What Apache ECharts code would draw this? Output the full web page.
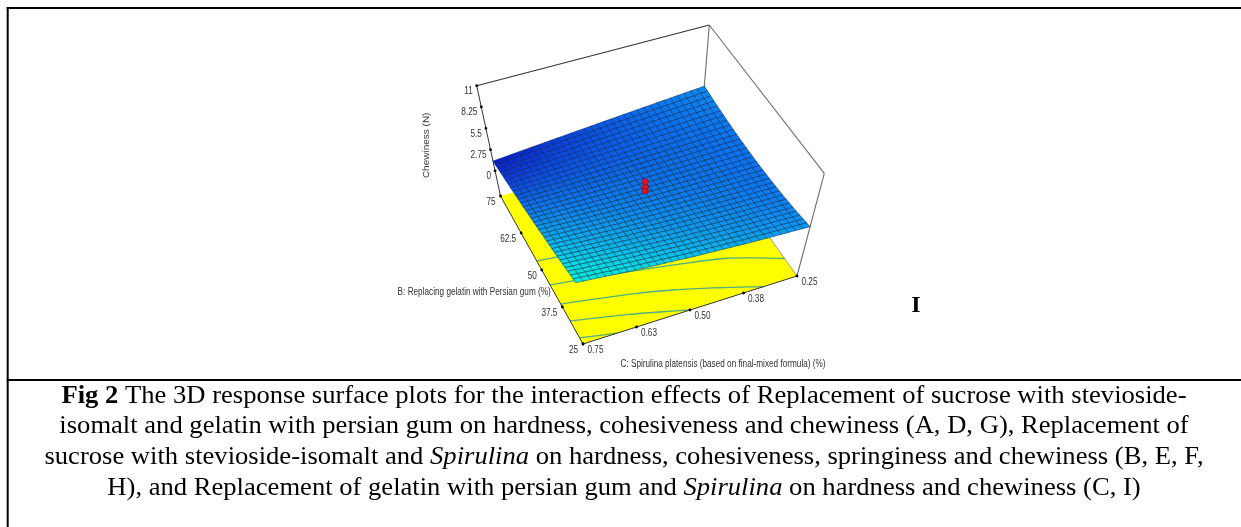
<!DOCTYPE html>
<html><head><meta charset="utf-8">
<style>html,body{margin:0;padding:0;background:#fff}#c{width:1241px;height:527px}</style>
<script src="https://cdn.jsdelivr.net/npm/echarts@6/dist/echarts.min.js"></script>
</head><body><div id="c"></div>
<script>
const zTickValues=[0,2.75,5.5,8.25,11];
const zTickLabels=['0','2.75','5.5','8.25','11'];
const bTickValues=[75,62.5,50,37.5,25];
const bTickLabels=['75','62.5','50','37.5','25'];
const cTickValues=[0.75,0.625,0.5,0.375,0.25];
const cTickLabels=['0.75','0.63','0.50','0.38','0.25'];
const zTitle='Chewiness (N)';
const bTitle='B: Replacing gelatin with Persian gum (%)';
const cTitle='C: Spirulina platensis (based on final-mixed formula) (%)';
const designPoints=[[0.5,50,4.45],[0.5,50,3.7],[0.5,50,3.2]];
const contourA=[[0.75,53],[0.71,52.5],[0.65,51.5],[0.6,50.5]];
const contourB=[[0.75,45],[0.692,44],[0.569,41.7],[0.46,39.4],[0.363,36.9],[0.303,34.2],[0.25,31.4]];
const contourC=[[0.75,38.5],[0.594,35],[0.51,32.5],[0.429,29.4],[0.375,27.1],[0.329,25]];
const contourD=[[0.75,32.8],[0.624,29.3],[0.555,27],[0.5,25]];
const contourE=[[0.75,27.1],[0.714,26.1],[0.67,25]];
// Chewiness: rows run C 0.75 to 0.25, columns run B 75 to 25.
const surfaceRows=[
[1.28,1.40,1.52,1.65,1.77,1.90,2.02,2.15,2.29,2.42,2.55,2.69,2.83,2.96,3.10,3.25,3.39,3.54,3.68,3.83,3.98,4.13,4.28,4.44,4.60,4.75,4.91,5.07,5.24,5.40,5.56,5.73,5.90],
[1.35,1.46,1.57,1.69,1.81,1.93,2.05,2.17,2.30,2.43,2.55,2.69,2.82,2.95,3.08,3.22,3.36,3.50,3.64,3.78,3.93,4.08,4.22,4.38,4.53,4.68,4.83,4.99,5.15,5.31,5.47,5.63,5.80],
[1.41,1.52,1.63,1.74,1.85,1.97,2.08,2.19,2.32,2.44,2.56,2.68,2.81,2.93,3.06,3.20,3.33,3.47,3.60,3.74,3.88,4.02,4.16,4.31,4.46,4.61,4.76,4.91,5.07,5.22,5.38,5.54,5.70],
[1.48,1.58,1.68,1.79,1.89,2.00,2.10,2.21,2.33,2.44,2.56,2.68,2.80,2.92,3.04,3.17,3.30,3.43,3.56,3.69,3.83,3.97,4.10,4.25,4.39,4.53,4.68,4.83,4.98,5.13,5.28,5.44,5.60],
[1.55,1.64,1.73,1.83,1.93,2.03,2.13,2.24,2.35,2.45,2.56,2.68,2.79,2.91,3.02,3.15,3.27,3.40,3.52,3.65,3.78,3.91,4.04,4.18,4.32,4.46,4.60,4.75,4.90,5.05,5.19,5.35,5.50],
[1.61,1.70,1.78,1.88,1.97,2.06,2.16,2.26,2.36,2.46,2.56,2.67,2.78,2.89,3.00,3.12,3.24,3.36,3.48,3.60,3.73,3.86,3.98,4.12,4.25,4.39,4.52,4.67,4.81,4.96,5.10,5.25,5.40],
[1.68,1.76,1.84,1.92,2.01,2.10,2.19,2.28,2.37,2.47,2.56,2.67,2.77,2.88,2.98,3.09,3.20,3.32,3.43,3.55,3.67,3.80,3.92,4.05,4.18,4.31,4.44,4.58,4.72,4.87,5.01,5.15,5.30],
[1.74,1.82,1.89,1.97,2.05,2.13,2.21,2.30,2.39,2.47,2.57,2.66,2.76,2.86,2.96,3.07,3.17,3.29,3.39,3.51,3.62,3.75,3.86,3.99,4.11,4.24,4.37,4.50,4.64,4.78,4.91,5.06,5.20],
[1.81,1.88,1.94,2.01,2.09,2.16,2.24,2.32,2.40,2.48,2.57,2.66,2.75,2.85,2.94,3.04,3.14,3.25,3.35,3.46,3.57,3.69,3.80,3.92,4.04,4.17,4.29,4.42,4.55,4.69,4.82,4.96,5.10],
[1.88,1.94,1.99,2.06,2.13,2.20,2.27,2.34,2.42,2.49,2.58,2.66,2.75,2.84,2.93,3.02,3.12,3.22,3.32,3.43,3.53,3.65,3.75,3.87,3.99,4.11,4.23,4.35,4.48,4.62,4.75,4.88,5.02],
[1.94,2.00,2.05,2.11,2.17,2.23,2.30,2.37,2.44,2.51,2.59,2.66,2.75,2.84,2.92,3.01,3.10,3.20,3.29,3.39,3.49,3.60,3.70,3.82,3.93,4.05,4.17,4.29,4.41,4.55,4.67,4.80,4.94],
[2.01,2.06,2.10,2.15,2.21,2.27,2.33,2.39,2.46,2.52,2.59,2.67,2.74,2.83,2.90,2.99,3.08,3.17,3.26,3.36,3.45,3.56,3.66,3.77,3.88,3.99,4.10,4.22,4.34,4.47,4.60,4.72,4.86],
[2.08,2.12,2.16,2.20,2.26,2.31,2.36,2.42,2.48,2.54,2.60,2.67,2.74,2.82,2.89,2.98,3.06,3.15,3.23,3.32,3.42,3.52,3.61,3.72,3.82,3.94,4.04,4.16,4.28,4.40,4.52,4.65,4.78],
[2.14,2.17,2.21,2.25,2.30,2.34,2.39,2.44,2.50,2.55,2.61,2.67,2.74,2.81,2.88,2.96,3.04,3.12,3.20,3.29,3.38,3.47,3.56,3.66,3.77,3.88,3.98,4.09,4.21,4.33,4.45,4.57,4.70],
[2.21,2.23,2.26,2.30,2.34,2.38,2.42,2.47,2.52,2.56,2.62,2.67,2.74,2.81,2.87,2.94,3.02,3.10,3.17,3.25,3.34,3.43,3.51,3.61,3.71,3.82,3.92,4.03,4.14,4.26,4.37,4.49,4.62],
[2.27,2.29,2.32,2.34,2.38,2.41,2.45,2.49,2.53,2.58,2.62,2.68,2.73,2.80,2.85,2.93,2.99,3.07,3.14,3.21,3.30,3.38,3.47,3.56,3.66,3.76,3.85,3.96,4.07,4.18,4.30,4.41,4.53],
[2.34,2.35,2.37,2.39,2.42,2.45,2.48,2.51,2.55,2.59,2.63,2.68,2.73,2.79,2.84,2.91,2.97,3.04,3.11,3.18,3.26,3.34,3.42,3.51,3.60,3.70,3.79,3.89,4.00,4.11,4.22,4.33,4.45],
[2.41,2.41,2.43,2.44,2.46,2.49,2.51,2.54,2.57,2.61,2.65,2.69,2.74,2.79,2.84,2.90,2.96,3.02,3.09,3.16,3.23,3.31,3.39,3.47,3.56,3.66,3.74,3.84,3.95,4.06,4.16,4.27,4.39],
[2.47,2.47,2.48,2.49,2.51,2.53,2.55,2.57,2.60,2.63,2.66,2.70,2.74,2.79,2.83,2.89,2.94,3.01,3.07,3.13,3.21,3.28,3.35,3.44,3.52,3.61,3.70,3.79,3.90,4.00,4.10,4.21,4.33],
[2.54,2.53,2.54,2.54,2.55,2.57,2.58,2.60,2.62,2.65,2.68,2.71,2.75,2.79,2.83,2.88,2.93,2.99,3.05,3.11,3.18,3.25,3.32,3.40,3.48,3.57,3.65,3.74,3.84,3.95,4.05,4.15,4.26],
[2.61,2.60,2.59,2.59,2.60,2.61,2.62,2.63,2.65,2.67,2.69,2.72,2.75,2.79,2.83,2.87,2.92,2.98,3.03,3.09,3.15,3.22,3.29,3.36,3.44,3.53,3.61,3.70,3.79,3.89,3.99,4.09,4.20],
[2.67,2.66,2.65,2.64,2.64,2.65,2.65,2.66,2.67,2.69,2.71,2.73,2.76,2.79,2.82,2.86,2.91,2.96,3.01,3.06,3.12,3.19,3.25,3.32,3.40,3.48,3.56,3.64,3.74,3.84,3.93,4.03,4.14],
[2.74,2.72,2.70,2.69,2.68,2.68,2.68,2.68,2.69,2.70,2.72,2.74,2.76,2.79,2.82,2.86,2.90,2.94,2.99,3.04,3.10,3.16,3.22,3.29,3.36,3.44,3.51,3.60,3.69,3.78,3.88,3.97,4.08],
[2.80,2.78,2.76,2.74,2.73,2.72,2.72,2.71,2.72,2.72,2.74,2.75,2.77,2.79,2.81,2.85,2.88,2.92,2.97,3.01,3.07,3.13,3.18,3.25,3.32,3.39,3.47,3.55,3.63,3.73,3.82,3.91,4.01],
[2.87,2.84,2.81,2.79,2.77,2.76,2.75,2.74,2.74,2.74,2.75,2.76,2.77,2.79,2.81,2.84,2.87,2.91,2.95,2.99,3.04,3.10,3.15,3.21,3.28,3.35,3.42,3.50,3.58,3.67,3.76,3.85,3.95],
[2.94,2.90,2.87,2.84,2.82,2.80,2.79,2.77,2.77,2.76,2.77,2.78,2.78,2.80,2.81,2.84,2.87,2.90,2.94,2.98,3.03,3.08,3.13,3.19,3.25,3.32,3.39,3.47,3.54,3.63,3.72,3.81,3.91],
[3.00,2.96,2.92,2.89,2.86,2.84,2.82,2.81,2.80,2.79,2.79,2.79,2.80,2.81,2.82,2.84,2.87,2.90,2.93,2.97,3.01,3.06,3.11,3.16,3.23,3.29,3.36,3.43,3.51,3.59,3.68,3.77,3.86],
[3.07,3.02,2.98,2.94,2.91,2.88,2.86,2.84,2.82,2.81,2.81,2.81,2.81,2.81,2.83,2.84,2.86,2.89,2.92,2.95,3.00,3.04,3.09,3.14,3.20,3.26,3.33,3.40,3.47,3.55,3.64,3.73,3.82],
[3.13,3.08,3.03,2.99,2.95,2.92,2.89,2.87,2.85,2.83,2.82,2.82,2.82,2.82,2.83,2.84,2.86,2.88,2.91,2.94,2.98,3.02,3.06,3.11,3.17,3.23,3.29,3.36,3.43,3.51,3.60,3.68,3.77],
[3.20,3.14,3.09,3.04,3.00,2.96,2.93,2.90,2.88,2.86,2.84,2.83,2.83,2.83,2.83,2.84,2.86,2.88,2.90,2.93,2.97,3.00,3.04,3.09,3.14,3.20,3.26,3.33,3.40,3.47,3.56,3.64,3.73],
[3.27,3.20,3.14,3.09,3.05,3.00,2.97,2.94,2.91,2.88,2.86,2.85,2.84,2.84,2.84,2.85,2.86,2.87,2.89,2.92,2.95,2.98,3.02,3.07,3.11,3.17,3.23,3.30,3.36,3.44,3.52,3.60,3.69],
[3.33,3.27,3.20,3.15,3.09,3.04,3.00,2.97,2.93,2.91,2.88,2.86,2.86,2.84,2.84,2.85,2.85,2.86,2.88,2.90,2.94,2.97,3.00,3.04,3.09,3.14,3.20,3.26,3.33,3.40,3.48,3.56,3.64],
[3.40,3.33,3.26,3.20,3.14,3.09,3.04,3.00,2.96,2.93,2.90,2.88,2.87,2.85,2.85,2.85,2.85,2.86,2.87,2.89,2.92,2.95,2.98,3.02,3.06,3.11,3.17,3.23,3.29,3.36,3.44,3.52,3.60]
];
const captionLines=[
'{b|Fig 2} The 3D response surface plots for the interaction effects of Replacement of sucrose with stevioside-',
'isomalt and gelatin with persian gum on hardness, cohesiveness and chewiness (A, D, G), Replacement of',
'sucrose with stevioside-isomalt and {i|Spirulina} on hardness, cohesiveness, springiness and chewiness (B, E, F,',
'H), and Replacement of gelatin with persian gum and {i|Spirulina} on hardness and chewiness (C, I)'];
const panelLetter='I';

/* scene: where the corners of the plot cube land in the page */
const view={
  floor:{A:[500.5,196],D:[583,344],E:[797,276],F:[700,139.4]},
  top:{A:[476.7,85.7],D:[571.6,248.5],E:[824.3,173.3],F:[709.3,25]},
  zFloor:-3.23, zTop:11
};
function bil(q,s,t){
  const f=k=>(1-s)*(1-t)*q.D[k]+s*(1-t)*q.E[k]+(1-s)*t*q.A[k]+s*t*q.F[k];
  return [f(0),f(1)];
}
function project(c,b,z){
  const s=(0.75-c)/0.5,t=(b-25)/50,w=(z-view.zFloor)/(view.zTop-view.zFloor);
  const p=bil(view.floor,s,t),q=bil(view.top,s,t);
  return [p[0]+(q[0]-p[0])*w,p[1]+(q[1]-p[1])*w];
}
const nC=surfaceRows.length,nB=surfaceRows[0].length;
const meshC=i=>0.75-0.5*i/(nC-1), meshB=j=>75-50*j/(nB-1);
const surfaceCells=[];
for(let i=0;i<nC-1;i++)for(let j=0;j<nB-1;j++){
  const m=(surfaceRows[i][j]+surfaceRows[i+1][j]+surfaceRows[i+1][j+1]+surfaceRows[i][j+1])/4;
  surfaceCells.push([i,j,m]);
}
const zF=view.zFloor,zT=view.zTop;
const boxEdges=[
 [.75,75,zT,.25,75,zT,'#333',1.1],[.25,75,zT,.25,25,zT,'#6e6e6e',1.1],
 [.75,75,zF,.75,75,zT,'#333',1],[.25,75,zF,.25,75,zT,'#6e6e6e',1.1],[.25,25,zF,.25,25,zT,'#6e6e6e',1.1],
 [.25,25,zF,.25,75,zF,'#777',.7],[.75,75,zF,.75,25,zF,'#333',1],[.75,25,zF,.25,25,zF,'#333',1]];
const dot=(api,p,r,fill,stroke)=>{const c=api.coord(p);return {type:'circle',shape:{cx:c[0],cy:c[1],r:r},style:{fill:fill,stroke:stroke||null,lineWidth:.6}};};
const FONT='"Liberation Sans",Arial,sans-serif';
const lab=(api,p,text,dx,dy,align)=>{const c=api.coord(p);return {type:'text',x:c[0]+dx,y:c[1]+dy,scaleX:.82,style:{text:text,fill:'#333',font:'10px '+FONT,align:align,verticalAlign:'middle'}};};
const base={type:'custom',coordinateSystem:'cartesian2d',silent:true,animation:false,clip:false};
const contours=[contourA,contourB,contourC,contourD,contourE];
const titles=[zTitle,bTitle,cTitle];
const serif='"Liberation Serif",serif';
const option={
 animation:false,
 grid:{left:0,right:0,top:0,bottom:0},
 xAxis:{type:'value',min:0,max:1241,show:false},
 yAxis:{type:'value',min:0,max:527,inverse:true,show:false},
 visualMap:{show:false,type:'continuous',seriesIndex:3,dimension:2,min:1.28,max:5.9,
   inRange:{color:['#0818c6','#0a44dc','#0a72ee','#0a96f0','#05bcee','#00dde6','#00f0dc']}},
 graphic:[
  {type:'line',shape:{x1:6.7,y1:8,x2:1241,y2:8},style:{stroke:'#000',lineWidth:2}},
  {type:'line',shape:{x1:7.7,y1:7,x2:7.7,y2:527},style:{stroke:'#000',lineWidth:2}},
  {type:'line',shape:{x1:6.7,y1:380,x2:1241,y2:380},style:{stroke:'#000',lineWidth:2}},
  {type:'text',x:916,y:306,style:{text:panelLetter,fill:'#000',font:'bold 24px '+serif,align:'center',verticalAlign:'middle'}}
 ].concat(captionLines.map((t,k)=>({type:'text',x:624,y:396+k*30.7,scaleX:1.043,style:{text:t,fill:'#000',font:'25.5px '+serif,align:'center',verticalAlign:'middle',
    rich:{b:{font:'bold 25.5px '+serif,fill:'#000'},i:{font:'italic 25.5px '+serif,fill:'#000'}}}}))),
 series:[
  Object.assign({},base,{name:'floor',data:[[0.5,50]],renderItem:(p,api)=>({type:'polygon',
     shape:{points:[[.75,75],[.75,25],[.25,25],[.25,75]].map(q=>api.coord(project(q[0],q[1],zF)))},style:{fill:'#ffff00'}})}),
  Object.assign({},base,{name:'contours',data:contours.map((c,k)=>[k,0]),renderItem:(p,api)=>({type:'polyline',
     shape:{points:contours[api.value(0)].map(q=>api.coord(project(q[0],q[1],zF))),smooth:.3},style:{fill:null,stroke:'#4fb080',lineWidth:1.3}})}),
  Object.assign({},base,{name:'box',data:boxEdges.map((e,k)=>[k,0]),renderItem:(p,api)=>{const e=boxEdges[api.value(0)];
     const a=api.coord(project(e[0],e[1],e[2])),b=api.coord(project(e[3],e[4],e[5]));
     return {type:'line',shape:{x1:a[0],y1:a[1],x2:b[0],y2:b[1]},style:{stroke:e[6],lineWidth:e[7]}};}}),
  Object.assign({},base,{name:'Chewiness surface',data:surfaceCells,renderItem:(p,api)=>{
     const i=api.value(0),j=api.value(1);
     const pts=[[i,j],[i+1,j],[i+1,j+1],[i,j+1]].map(q=>api.coord(project(meshC(q[0]),meshB(q[1]),surfaceRows[q[0]][q[1]])));
     return {type:'polygon',shape:{points:pts},style:{fill:api.visual('color'),stroke:'rgba(0,20,70,.72)',lineWidth:.6}};}}),
  Object.assign({},base,{name:'zTicks',data:zTickValues.map((v,k)=>[k,0]),renderItem:(p,api)=>{const k=api.value(0),q=project(.75,75,zTickValues[k]);
     return {type:'group',children:[dot(api,q,1.4,'#000'),lab(api,q,zTickLabels[k],-4,5.5,'right')]};}}),
  Object.assign({},base,{name:'bTicks',data:bTickValues.map((v,k)=>[k,0]),renderItem:(p,api)=>{const k=api.value(0),q=project(.75,bTickValues[k],zF);
     return {type:'group',children:[dot(api,q,1.4,'#000'),lab(api,q,bTickLabels[k],-5,6.5,'right')]};}}),
  Object.assign({},base,{name:'cTicks',data:cTickValues.map((v,k)=>[k,0]),renderItem:(p,api)=>{const k=api.value(0),q=project(cTickValues[k],25,zF);
     return {type:'group',children:[dot(api,q,1.4,'#000'),lab(api,q,cTickLabels[k],4.5,6,'left')]};}}),
  Object.assign({},base,{name:'design points',data:designPoints,renderItem:(p,api)=>dot(api,project(api.value(0),api.value(1),api.value(2)),3,'#ee1018','#8a0a10')}),
  Object.assign({},base,{name:'axis titles',data:titles.map((t,k)=>[k,0]),renderItem:(p,api)=>{const k=api.value(0);
     if(k===0){const c=api.coord(project(.75,75,5.5));return {type:'text',x:c[0]-59,y:c[1]+17,rotation:Math.PI/2,scaleY:.9,style:{text:titles[0],fill:'#3c3c3c',font:'10px '+FONT,align:'center',verticalAlign:'middle'}};}
     if(k===1){const q=project(.75,50,zF);return lab(api,[q[0]+9,q[1]+22],titles[1],0,0,'right');}
     const q=project(.5,25,zF);return lab(api,[q[0]+33,q[1]+54],titles[2],0,0,'center');}})
 ]
};
const chart=echarts.init(document.getElementById('c'),null,{renderer:'canvas'});
chart.setOption(option);
</script></body></html>
